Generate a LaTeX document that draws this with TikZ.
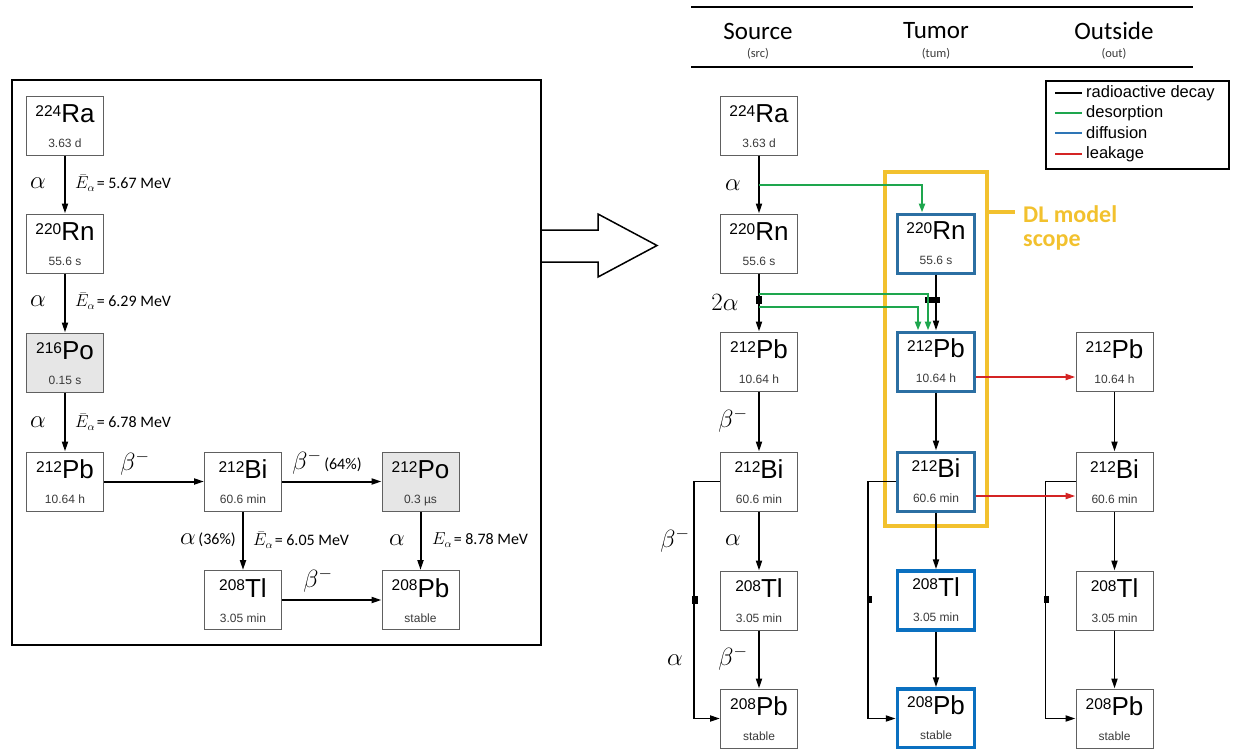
\documentclass[tikz,border=0pt]{standalone}
\usepackage{fontspec}
\setmainfont{Liberation Sans}
\newfontfamily\carlito{Carlito}
\usetikzlibrary{arrows.meta,calc}

\definecolor{boxgray}{HTML}{606060}
\definecolor{pogray}{HTML}{E6E6E6}
\definecolor{dlblue}{HTML}{2B6FA3}
\definecolor{tlblue}{HTML}{0A70C0}
\definecolor{dlyellow}{HTML}{F2C12E}
\definecolor{dgreen}{HTML}{1EA64E}
\definecolor{dred}{HTML}{D42424}
\definecolor{legblue}{HTML}{2E75B6}
\definecolor{htgray}{HTML}{3A3A3A}

\tikzset{
  nucbox/.style={draw=boxgray, line width=1pt, minimum width=77pt, minimum height=59pt, inner sep=0pt},
  eltext/.style={anchor=base, inner sep=0pt, font=\fontsize{26}{26}\selectfont},
  hltext/.style={anchor=base, inner sep=0pt, font=\fontsize{12}{12}\selectfont, text=htgray},
  pobox/.style={fill=pogray},
  dlbox/.style={draw=dlblue, line width=3pt},
  tlbox/.style={draw=tlblue, line width=3.5pt},
  dec/.style={line width=2pt, -{Triangle[length=10pt,width=6pt]}},
  rdec/.style={line width=1.9pt, -{Triangle[length=10pt,width=6pt]}},
  garr/.style={dgreen, line width=2.2pt, -{Triangle[length=9pt,width=6pt]}},
  rarr/.style={dred, line width=2.2pt, -{Triangle[length=10pt,width=6pt]}},
  sym/.style={font=\fontsize{26}{26}\selectfont, inner sep=0pt},
  elab/.style={font=\carlito\fontsize{16}{16}\selectfont, inner sep=0pt, anchor=west},
  sq/.style={fill=black, inner sep=0pt, minimum width=6pt, minimum height=8pt},
  sqs/.style={fill=black, inner sep=0pt, minimum width=5pt, minimum height=7pt},
  hdr/.style={font=\carlito\fontsize{25}{25}\selectfont, inner sep=0pt},
  hdrs/.style={font=\carlito\fontsize{12.5}{12.5}\selectfont, inner sep=0pt, text=htgray},
  legtxt/.style={font=\fontsize{16.5}{16.5}\selectfont, inner sep=0pt, anchor=west},
  dltxt/.style={font=\carlito\bfseries\fontsize{24}{24}\selectfont, text=dlyellow, inner sep=0pt, anchor=west}
}

\newcommand\nuc[7]{%
  \node[nucbox,#7] (#1) at (#2,#3) {};
  \node[eltext] (#1-e) at ($(#1.north)+(0,27)$) {{\fontsize{15.5}{15.5}\selectfont\raisebox{6.5pt}{#4}}#5};
  \node[hltext] (#1-h) at ($(#1.north)+(0,52)$) {#6};
}

\begin{document}
\begin{tikzpicture}[x=1pt,y=-1pt]
\useasboundingbox (0,0) rectangle (1233,748);

% ---------- left panel ----------
\draw[line width=2pt] (12,80) rectangle (541,645);
\nuc{lRa}{65}{125.5}{224}{Ra}{3.63 d}{}
\nuc{lRn}{65}{243.5}{220}{Rn}{55.6 s}{}
\nuc{lPo}{65}{362.5}{216}{Po}{0.15 s}{pobox}
\nuc{lPb}{65}{481.5}{212}{Pb}{10.64 h}{}
\nuc{lBi}{243}{481.5}{212}{Bi}{60.6 min}{}
\nuc{lPoB}{420.5}{481.5}{212}{Po}{0.3 µs}{pobox}
\nuc{lTl}{243}{600}{208}{Tl}{3.05 min}{}
\nuc{lPbB}{420.5}{600}{208}{Pb}{stable}{}

\draw[dec] (lRa) -- (lRn);
\node[sym] (la1) at (38,183) {$\alpha$};
\node[elab] (le1) at (75,183) {$\bar{E}_{\alpha}$\kern1.5pt= 5.67 MeV};
\draw[dec] (lRn) -- (lPo);
\node[sym] (la2) at (38,301) {$\alpha$};
\node[elab] (le2) at (75,301) {$\bar{E}_{\alpha}$\kern1.5pt= 6.29 MeV};
\draw[dec] (lPo) -- (lPb);
\node[sym] (la3) at (38,422) {$\alpha$};
\node[elab] (le3) at (75,422) {$\bar{E}_{\alpha}$\kern1.5pt= 6.78 MeV};
\draw[dec] (lPb) -- (lBi);
\node[sym] (lb1) at (135,463) {$\beta^{-}$};
\draw[dec] (lBi) -- (lPoB);
\node[inner sep=0pt] (lb2) at (327,462) {{\fontsize{26}{26}\selectfont$\beta^{-}$} {\carlito\fontsize{16}{16}\selectfont(64\%)}};
\draw[dec] (lBi) -- (lTl);
\node[inner sep=0pt, anchor=east] (la4) at (236,540) {{\fontsize{26}{26}\selectfont$\alpha$} {\carlito\fontsize{16}{16}\selectfont(36\%)}};
\node[elab] (le4) at (253,540) {$\bar{E}_{\alpha}$\kern1.5pt= 6.05 MeV};
\draw[dec] (lPoB) -- (lPbB);
\node[sym] (la5) at (397,540) {$\alpha$};
\node[elab] (le5) at (432,540) {$E_{\alpha}$\kern1.5pt= 8.78 MeV};
\draw[dec] (lTl) -- (lPbB);
\node[sym] (lb3) at (318,580) {$\beta^{-}$};

% big hollow arrow
\draw[line width=1.5pt, line join=miter] (541,230) -- (598,230) -- (598,214) -- (657,245.5) -- (598,277) -- (598,262) -- (541,262);

% ---------- right panel ----------
\draw[line width=2pt] (691,7) -- (1193,7);
\draw[line width=2pt] (691,67) -- (1193,67);
\node[hdr] (hS) at (758,31) {Source};
\node[hdrs] (hs) at (758,54) {(src)};
\node[hdr] (hT) at (936,31) {Tumor};
\node[hdrs] (ht) at (936,54) {(tum)};
\node[hdr] (hO) at (1114,31) {Outside};
\node[hdrs] (ho) at (1114,54) {(out)};

% DL model scope
\draw[dlyellow, line width=4pt] (885,172) rectangle (987,526);
\draw[dlyellow, line width=4pt] (987,212) -- (1015,212);
\node[dltxt] (dl1) at (1023,214) {DL model};
\node[dltxt] (dl2) at (1023,242) {scope};

% legend
\node[draw, line width=2pt, minimum width=183pt, minimum height=88pt, inner sep=0pt] (leg) at (1137.5,125) {};
\draw[line width=2pt] (1055,93) -- (1082,93);
\node[legtxt] (lg1) at (1086,93) {radioactive decay};
\draw[dgreen, line width=2pt] (1055,113) -- (1082,113);
\node[legtxt] (lg2) at (1086,113) {desorption};
\draw[legblue, line width=2pt] (1055,133) -- (1082,133);
\node[legtxt] (lg3) at (1086,133) {diffusion};
\draw[dred, line width=2pt] (1055,154) -- (1082,154);
\node[legtxt] (lg4) at (1086,154) {leakage};

% source column
\nuc{sRa}{759}{125.5}{224}{Ra}{3.63 d}{}
\nuc{sRn}{759}{243.5}{220}{Rn}{55.6 s}{}
\nuc{sPb}{759}{361.5}{212}{Pb}{10.64 h}{}
\nuc{sBi}{759}{481.5}{212}{Bi}{60.6 min}{}
\nuc{sTl}{759}{600.5}{208}{Tl}{3.05 min}{}
\nuc{sPbB}{759}{718.5}{208}{Pb}{stable}{}

% tumor column
\nuc{tRn}{936}{243.5}{220}{Rn}{55.6 s}{dlbox}
\nuc{tPb}{936}{361.5}{212}{Pb}{10.64 h}{dlbox}
\nuc{tBi}{936}{481.5}{212}{Bi}{60.6 min}{dlbox}
\nuc{tTl}{936}{600.5}{208}{Tl}{3.05 min}{tlbox}
\nuc{tPbB}{936}{718.5}{208}{Pb}{stable}{tlbox}

% outside column
\nuc{oPb}{1114.5}{361.5}{212}{Pb}{10.64 h}{}
\nuc{oBi}{1114.5}{481.5}{212}{Bi}{60.6 min}{}
\nuc{oTl}{1114.5}{600.5}{208}{Tl}{3.05 min}{}
\nuc{oPbB}{1114.5}{718.5}{208}{Pb}{stable}{}

% source decays
\draw[rdec] (sRa) -- (sRn);
\draw[rdec] (sRn) -- (sPb);
\draw[rdec] (sPb) -- (sBi);
\draw[rdec] (sBi) -- (sTl);
\draw[rdec] (sTl) -- (sPbB);
\draw[rdec] (sBi.west) -- ++(-26,0) |- (sPbB.west);
\node[sq] (sq1) at (695,600) {};
\node[sq] (sq2) at (759,300) {};
\node[sym] (ra1) at (733,185) {$\alpha$};
\node[sym] (ra2) at (725,302) {$2\alpha$};
\node[sym] (rb1) at (733,420) {$\beta^{-}$};
\node[sym] (ra3) at (733,540) {$\alpha$};
\node[sym] (rb2) at (733,658) {$\beta^{-}$};
\node[sym] (rb3) at (675,540) {$\beta^{-}$};
\node[sym] (ra4) at (675,660) {$\alpha$};

% tumor decays
\draw[rdec] (tRn) -- (tPb);
\draw[rdec] (tPb) -- (tBi);
\draw[rdec] (tBi) -- (tTl);
\draw[rdec] (tTl) -- (tPbB);
\draw[rdec] (tBi.west) -- ++(-28,0) |- (tPbB.west);
\node[sqs] (sq3) at (869.5,599) {};
\node[fill=black, inner sep=0pt, minimum width=15pt, minimum height=6pt] (bar) at (932.5,300) {};

% outside decays
\draw[rdec] (oPb) -- (oBi);
\draw[rdec] (oBi) -- (oTl);
\draw[rdec] (oTl) -- (oPbB);
\draw[rdec] (oBi.west) -- ++(-30,0) |- (oPbB.west);
\node[sqs] (sq4) at (1046,599) {};

% desorption
\coordinate (g1) at (759,185);
\coordinate (g2) at (759,294);
\coordinate (g3) at (759,307);
\draw[garr] (g1) -| ([xshift=-14pt]tRn.north);
\draw[garr] (g2) -| ([xshift=-8pt]tPb.north);
\draw[garr] (g3) -| ([xshift=-18pt]tPb.north);

% leakage
\draw[rarr] ([yshift=-15.5pt]tPb.east) -- ([yshift=-15.5pt]oPb.west);
\draw[rarr] ([yshift=-14.5pt]tBi.east) -- ([yshift=-14.5pt]oBi.west);
\end{tikzpicture}
\end{document}
